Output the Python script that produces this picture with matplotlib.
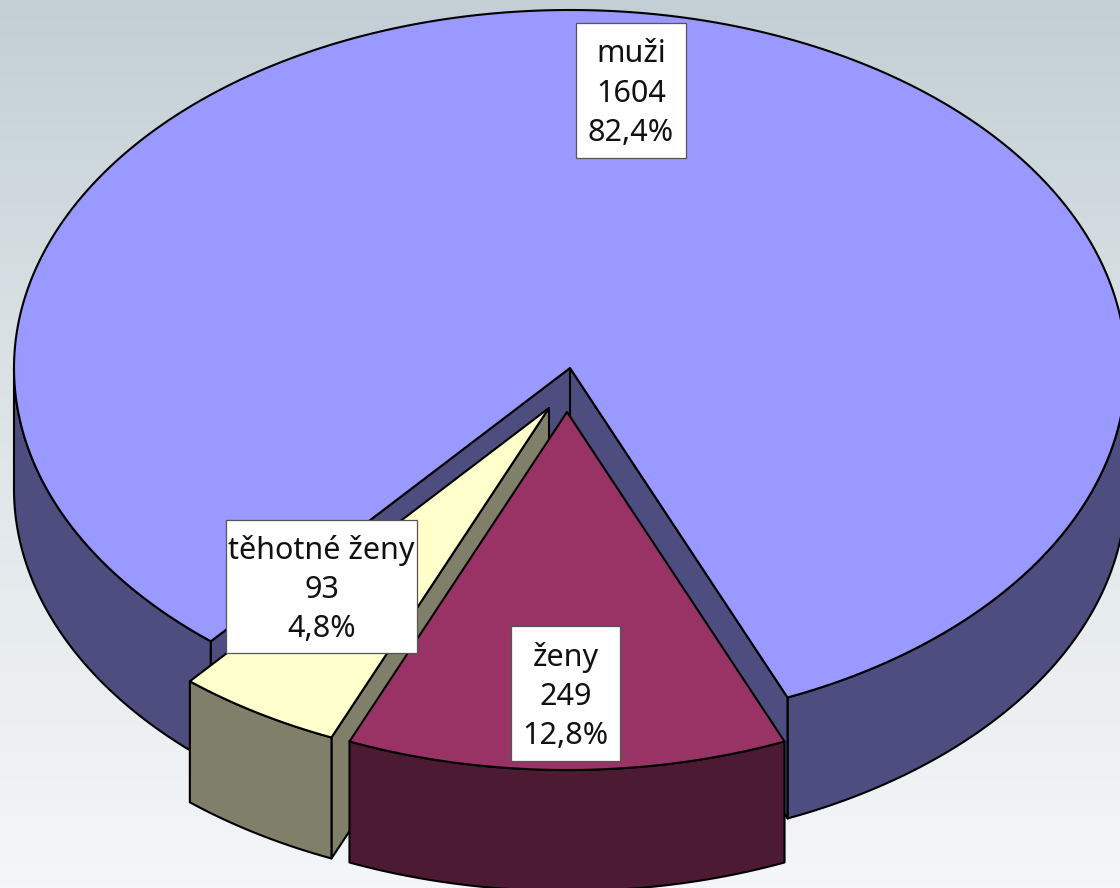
import numpy as np
import matplotlib
matplotlib.use('Agg')
import matplotlib.pyplot as plt
from matplotlib.patches import Polygon, Rectangle
from matplotlib.colors import LinearSegmentedColormap

# data
labels = ['muži', 'ženy', 'těhotné ženy']
values = [1604, 249, 93]
percents = ['82,4%', '12,8%', '4,8%']

top_colors = ['#9999ff', '#993366', '#ffffcc']
side_colors = ['#4d4d80', '#4d1a33', '#80806a']

# pie geometry in pixels
rx = 556.0
ry = 358.0
depth = 121.0
centers = [(570, 368), (567, 412), (549, 408)]
boxes = [(576, 23, 110, 135), (511, 626, 109, 135), (226, 520, 191, 133)]

fig = plt.figure(figsize=(11.2, 8.88), dpi=100)
ax = fig.add_axes([0, 0, 1, 1])
ax.set_xlim(0, 1120)
ax.set_ylim(888, 0)
ax.axis('off')

# background gradient
cmap = LinearSegmentedColormap.from_list('bg', ['#c3cfd5', '#d6dfe2', '#e6ebee', '#f4f6f8'])
ax.imshow(np.linspace(0, 1, 256).reshape(-1, 1), cmap=cmap, extent=[0, 1120, 888, 0], aspect='auto', zorder=0)

total = sum(values)
sweep = [360.0 * v / total for v in values]

# angles are measured from straight down, positive to the right
zeny_hi = sweep[1] / 2
zeny_lo = -sweep[1] / 2
teh_lo = zeny_lo - sweep[2]
muzi_lo = teh_lo - sweep[0]


def rim(center, a0, a1, n=200):
    t = np.radians(np.linspace(a0, a1, n))
    return np.column_stack([center[0] + rx * np.sin(t), center[1] + ry * np.cos(t)])


def spot(center, a):
    return rim(center, a, a, 1)[0]


def add(pts, color, z):
    ax.add_patch(Polygon(pts, closed=True, facecolor=color, edgecolor='black', linewidth=1.5, joinstyle='round', zorder=z))


def side(center, a0, a1, color, z):
    arc = rim(center, a0, a1)
    low = arc + [0, depth]
    add(np.vstack([arc, low[::-1]]), color, z)


def cut(center, a, color, z):
    p = spot(center, a)
    c = np.array(center, dtype=float)
    add(np.array([c, p, p + [0, depth], c + [0, depth]]), color, z)


def top(center, a0, a1, color, z):
    add(np.vstack([[center], rim(center, a0, a1, 400)]), color, z)


# muži
c = centers[0]
side(c, zeny_hi, 90, side_colors[0], 2)
side(c, teh_lo, -90, side_colors[0], 2)
cut(c, zeny_hi, side_colors[0], 3)
cut(c, teh_lo, side_colors[0], 3)
top(c, teh_lo, muzi_lo, top_colors[0], 4)

# těhotné ženy
c = centers[2]
cut(c, zeny_lo, side_colors[2], 5)
side(c, zeny_lo, teh_lo, side_colors[2], 6)
top(c, zeny_lo, teh_lo, top_colors[2], 7)

# ženy
c = centers[1]
side(c, zeny_lo, zeny_hi, side_colors[1], 8)
top(c, zeny_lo, zeny_hi, top_colors[1], 9)

# labels
for name, val, pct, (x, y, w, h) in zip(labels, values, percents, boxes):
    ax.add_patch(Rectangle((x, y), w, h, facecolor='white', edgecolor='#555555', linewidth=0.9, zorder=10))
    for i, s in enumerate([name, str(val), pct]):
        ax.text(x + w / 2, y + h / 2 + 3 + (i - 1) * 39.5, s, ha='center', va='center', fontsize=22,
                family='Noto Sans', color='#111111', zorder=11)

fig.savefig('out.png', dpi=100)
